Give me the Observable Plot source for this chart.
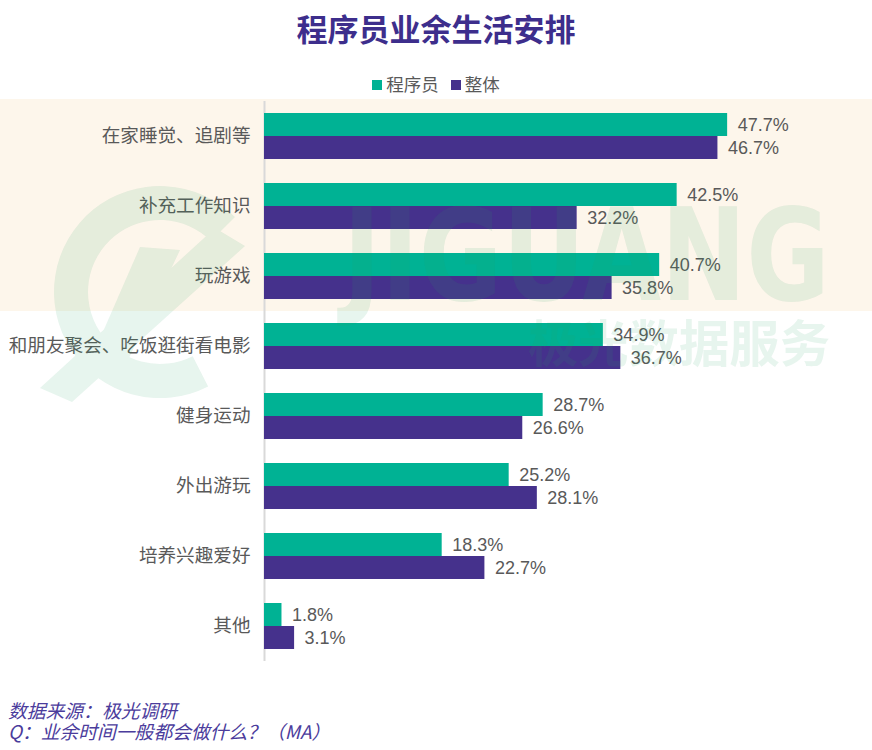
<!DOCTYPE html>
<html>
<head>
<meta charset="utf-8">
<script src="https://cdn.jsdelivr.net/npm/d3@7"></script>
<script src="https://cdn.jsdelivr.net/npm/@observablehq/plot@0.6"></script>
<style>
  html, body { margin: 0; padding: 0; background: #fff; }
  #wrap { position: relative; width: 872px; height: 750px; overflow: hidden; background: #fff; font-family: "Noto Sans CJK SC", sans-serif; }
  #title { position: absolute; top: 5px; left: 0; width: 872px; text-align: center; font-size: 31px; font-weight: bold; color: #3d2e8c; }
  #legend { position: absolute; top: 71px; left: 0; width: 872px; text-align: center; font-size: 17.5px; color: #595959; }
  #legend span.sw { display: inline-block; width: 10px; height: 10px; margin-right: 4px; vertical-align: 1px; }
  #legend span.item { margin: 0 6px; }
  #chart { position: absolute; top: 98px; left: 0; }
  #footer { position: absolute; top: 699px; left: 8px; font-size: 18.8px; font-style: italic; color: #4b3c9c; line-height: 21px; }
  #wm { position: absolute; top: 0; left: 0; pointer-events: none; }
</style>
</head>
<body>
<div id="wrap">
  <div id="title">程序员业余生活安排</div>
  <div id="legend"></div>
  <div id="chart"></div>
  <svg id="wm" width="872" height="750"></svg>
  <div id="footer">数据来源：极光调研<br>Q：业余时间一般都会做什么？（MA）</div>
</div>
<script>
const categories = ["在家睡觉、追剧等", "补充工作知识", "玩游戏", "和朋友聚会、吃饭逛街看电影", "健身运动", "外出游玩", "培养兴趣爱好", "其他"];
const programmer = [47.7, 42.5, 40.7, 34.9, 28.7, 25.2, 18.3, 1.8];
const overall = [46.7, 32.2, 35.8, 36.7, 26.6, 28.1, 22.7, 3.1];
const series = ["程序员", "整体"];
const colors = ["#00b294", "#45318c"];
const highlighted = categories.slice(0, 3);

const rows = [];
categories.forEach((c, i) => {
  rows.push({cat: c, series: series[0], value: programmer[i]});
  rows.push({cat: c, series: series[1], value: overall[i]});
});

// legend
const legend = document.getElementById("legend");
series.forEach((s, i) => {
  const it = document.createElement("span");
  it.className = "item";
  it.innerHTML = `<span class="sw" style="background:${colors[i]}"></span>${s}`;
  legend.appendChild(it);
});

const xMax = 58.5;
const ml = 264, mr = 40;

const chart = Plot.plot({
  width: 872,
  height: 564,
  marginLeft: ml,
  marginRight: mr,
  marginTop: 1,
  marginBottom: 0,
  style: {fontFamily: "'Noto Sans CJK SC', sans-serif", fontSize: "18px", color: "#595959", background: "transparent"},
  x: {domain: [0, xMax], axis: null},
  y: {domain: series, paddingInner: 0, paddingOuter: 0.467, axis: null},
  fy: {domain: categories, padding: 0, axis: null},
  color: {domain: series, range: colors},
  marks: [
    Plot.rect(highlighted, {fy: d => d, x1: () => 0, x2: () => xMax, insetLeft: -ml, insetRight: -mr, insetTop: -2, fill: "#fdf6eb"}),
    Plot.ruleX([0], {stroke: "#d9d9d9", strokeWidth: 2}),
    Plot.barX(rows, {fy: "cat", y: "series", x: "value", fill: "series"}),
    Plot.text(categories, {fy: d => d, x: () => 0, text: d => d, textAnchor: "end", dx: -14, fontSize: 18.6, fill: "#595959", fontFamily: "'Noto Sans CJK SC', sans-serif"}),
    Plot.text(rows, {fy: "cat", y: "series", x: "value", text: d => d.value.toFixed(1) + "%", textAnchor: "start", dx: 10, fontSize: 18, fontFamily: "'Liberation Sans', Arial, sans-serif", fill: "#595959"})
  ]
});
document.getElementById("chart").appendChild(chart);

// faint watermark
const wm = d3.select("#wm");
const g = wm.append("g").attr("fill", "rgb(40,160,100)").attr("opacity", 0.11);
g.append("text").attr("x", 343).attr("y", 300).attr("font-family", "'DejaVu Sans', sans-serif").attr("font-weight", "bold")
  .attr("font-size", 128).attr("textLength", 487).attr("lengthAdjust", "spacingAndGlyphs").text("JIGUANG");
g.append("text").attr("x", 528).attr("y", 362).attr("font-family", "'Noto Sans CJK SC', sans-serif").attr("font-weight", "bold")
  .attr("font-size", 50).attr("textLength", 302).attr("lengthAdjust", "spacingAndGlyphs").text("极光数据服务");
const ring = d3.arc().innerRadius(72).outerRadius(106).startAngle(0.25 * Math.PI).endAngle(-1.15 * Math.PI);
g.append("path").attr("transform", "translate(160,292)").attr("d", ring());
g.append("path").attr("d", "M40,388 L215,228 L245,246 L72,402 Z");
g.append("path").attr("d", "M95,350 L140,247 L180,250 L128,360 Z");
</script>
</body>
</html>
